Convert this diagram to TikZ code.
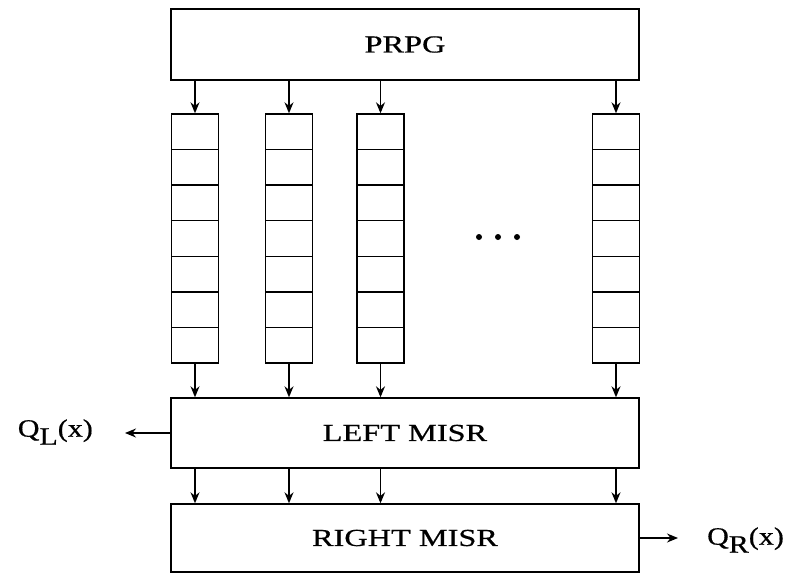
\documentclass[tikz,border=0pt]{standalone}
\usepackage{fontspec}
\newfontfamily\diafont{Liberation Serif}[FakeStretch=1.32,FakeBold=0.6]
\newfontfamily\lblfont{Liberation Serif}[FakeStretch=1.2,FakeBold=0.6]
\usetikzlibrary{arrows.meta, positioning}

\begin{document}
\begin{tikzpicture}[
  x=1pt, y=-1pt,
  box/.style={draw, line width=1.4pt, minimum width=468pt, inner sep=0pt, font=\diafont\fontsize{24.5}{28}\selectfont},
  cell/.style={draw, line width=1.4pt, minimum width=47pt, minimum height=35.57pt, inner sep=0pt},
  arr/.style={-{Stealth[length=11pt, width=9pt]}, line width=1.4pt},
  lbl/.style={font=\lblfont\fontsize{25}{29}\selectfont, inner sep=0pt}
]
\useasboundingbox (0,0) rectangle (785,574);
\node[box, minimum height=71pt] (prpg)  at (405,44.5) {PRPG};
\node[box, minimum height=70pt] (left)  at (405,433) {LEFT MISR};
\node[box, minimum height=68pt] (right) at (405,538) {RIGHT MISR};
\foreach \c/\x in {1/195,2/289,3/380.5,4/616} {
  \foreach \r in {1,...,7}
    \node[cell] (c\c-\r) at (\x,{114+(\r-0.5)*35.57}) {};
  \draw[arr] (prpg.south -| c\c-1) -- (c\c-1.north);
  \draw[arr] (c\c-7.south) -- (left.north -| c\c-7);
  \draw[arr] (left.south -| c\c-7) -- (right.north -| c\c-7);
}
\foreach \d in {479,498,517}
  \fill (\d,237) circle (3pt);
\node[lbl, anchor=east] (ql) at (93,432) {Q\raisebox{-8pt}{L}(x)};
\node[lbl, anchor=west] (qr) at (707,540) {Q\raisebox{-8pt}{R}(x)};
\coordinate (qlend) at (125,0);
\coordinate (qrend) at (678,0);
\draw[arr] (left.west) -- (left.west -| qlend);
\draw[arr] (right.east) -- (right.east -| qrend);
\end{tikzpicture}
\end{document}
